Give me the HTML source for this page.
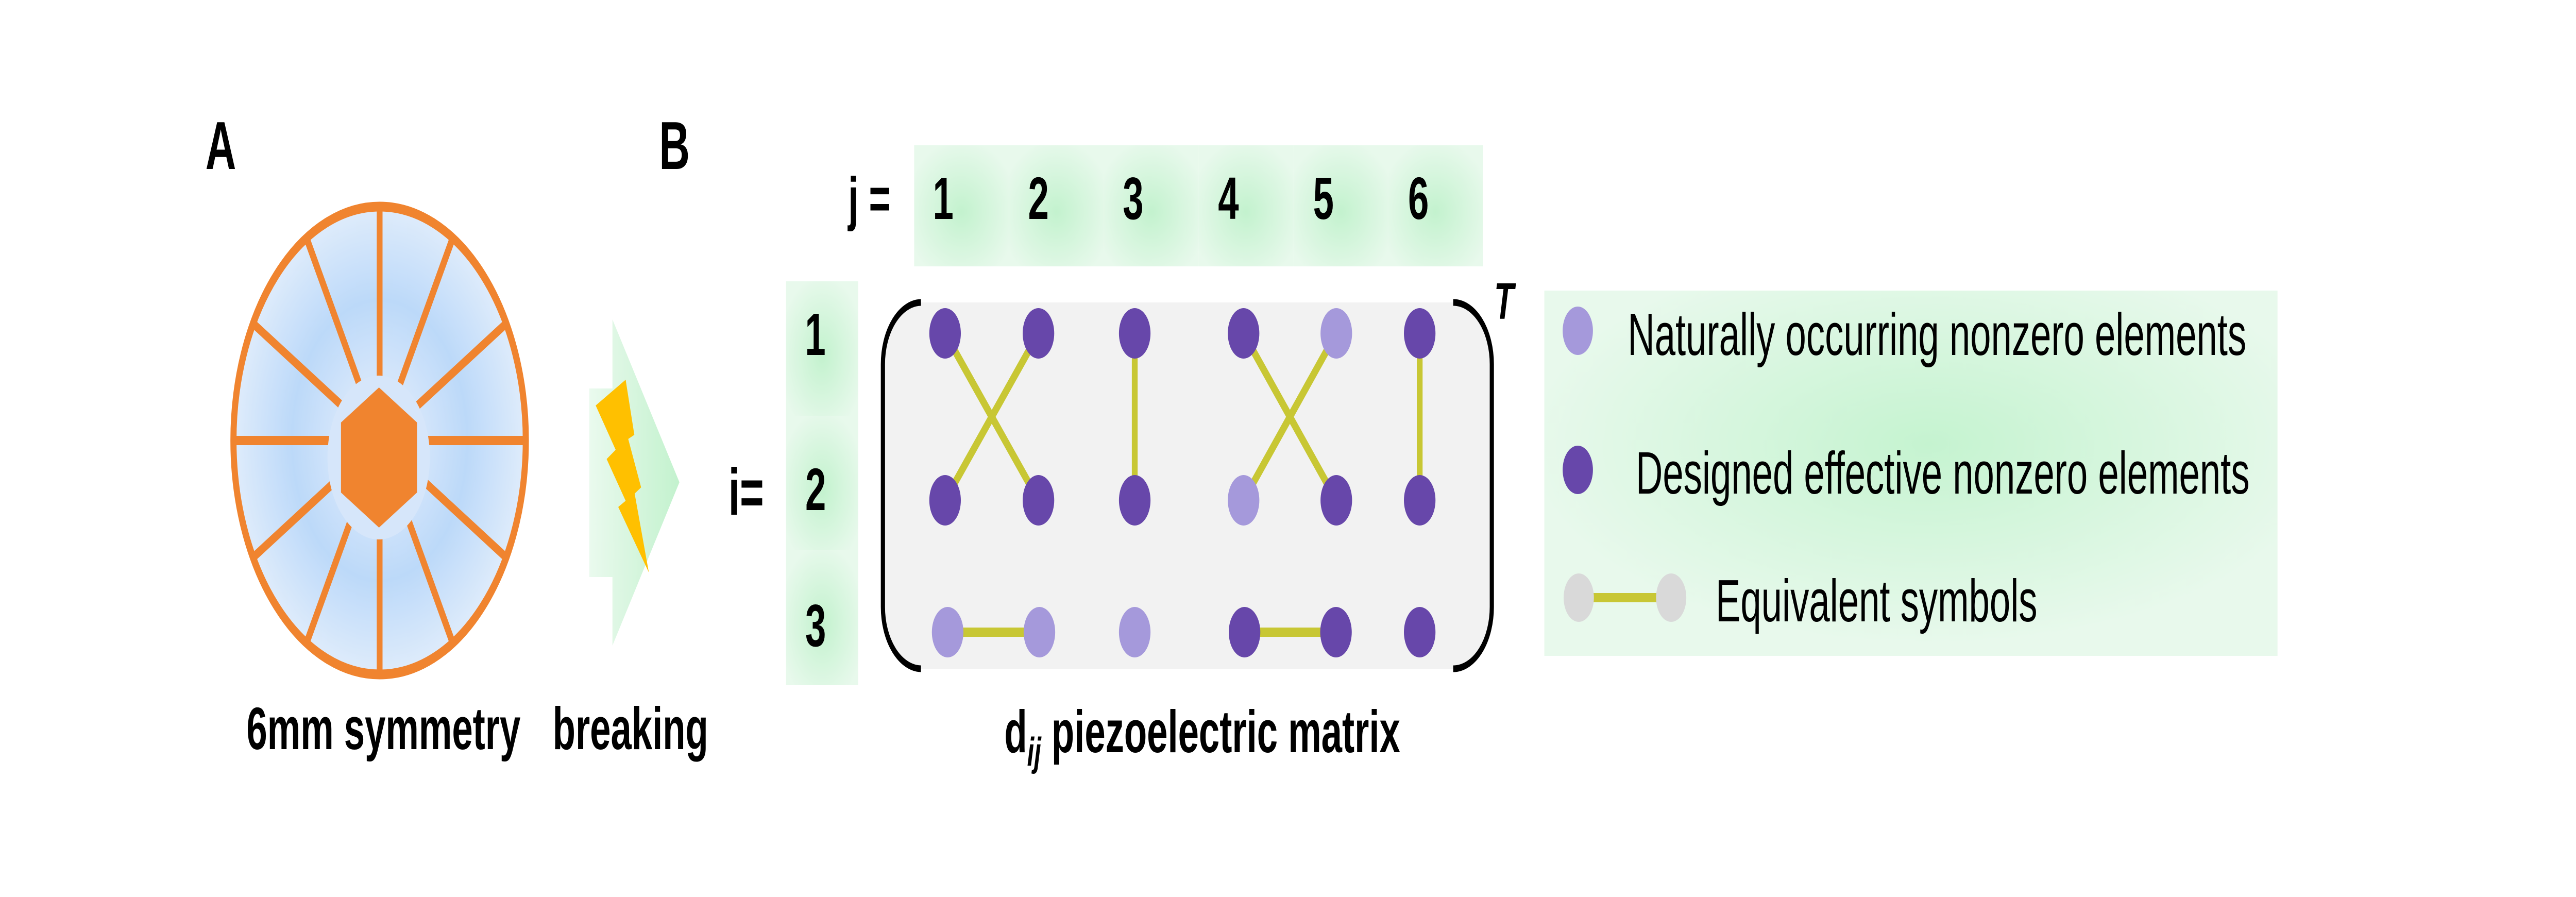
<!DOCTYPE html>
<html>
<head>
<meta charset="utf-8">
<style>
  html, body { margin:0; padding:0; background:#ffffff; width:100%; height:100%; overflow:hidden; }
  svg { display:block; width:100vw; height:100vh; }
  text { font-family: "Liberation Sans", Arial, sans-serif; }
</style>
</head>
<body>
<svg viewBox="0 0 8000 1741" preserveAspectRatio="none" xmlns="http://www.w3.org/2000/svg">
  <defs>
    <radialGradient id="blueG" gradientUnits="userSpaceOnUse" cx="1179" cy="855" r="454">
      <stop offset="0.3" stop-color="#D3E5FA"/>
      <stop offset="0.6" stop-color="#BCD9F9"/>
      <stop offset="1" stop-color="#DFECFB"/>
    </radialGradient>
    <linearGradient id="arrowG" gradientUnits="userSpaceOnUse" x1="1830" y1="0" x2="2110" y2="0">
      <stop offset="0" stop-color="#EAFAEE"/>
      <stop offset="0.3" stop-color="#DEF7E4"/>
      <stop offset="1" stop-color="#C3F2CE"/>
    </linearGradient>
    <radialGradient id="tileG" cx="0.5" cy="0.55" r="0.6">
      <stop offset="0" stop-color="#C3F2CE"/>
      <stop offset="1" stop-color="#E8F9EC"/>
    </radialGradient>
    <radialGradient id="legG" cx="0.526" cy="0.42" r="0.55">
      <stop offset="0" stop-color="#C5F3D0"/>
      <stop offset="1" stop-color="#E8F9EC"/>
    </radialGradient>
  </defs>

  <rect x="0" y="0" width="8000" height="1741" fill="#ffffff"/>

  <!-- Labels A, B -->
  <text x="638" y="328" font-size="132" font-weight="bold" fill="#000">A</text>
  <text x="2047" y="328" font-size="132" font-weight="bold" fill="#000">B</text>

  <!-- 6mm symmetry disc -->
  <circle cx="1179" cy="855" r="454" fill="url(#blueG)" stroke="#F0842F" stroke-width="19"/>
  <g stroke="#F0842F" stroke-width="18">
    <line x1="1179" y1="855" x2="1179" y2="401"/>
    <line x1="1179" y1="855" x2="1406" y2="462"/>
    <line x1="1179" y1="855" x2="1572" y2="628"/>
    <line x1="1179" y1="855" x2="1633" y2="855"/>
    <line x1="1179" y1="855" x2="1572" y2="1082"/>
    <line x1="1179" y1="855" x2="1406" y2="1248"/>
    <line x1="1179" y1="855" x2="1179" y2="1309"/>
    <line x1="1179" y1="855" x2="952" y2="1248"/>
    <line x1="1179" y1="855" x2="786" y2="1082"/>
    <line x1="1179" y1="855" x2="725" y2="855"/>
    <line x1="1179" y1="855" x2="786" y2="628"/>
    <line x1="1179" y1="855" x2="952" y2="462"/>
  </g>
  <circle cx="1176" cy="888" r="159" fill="#D6E6FA"/>
  <polygon points="1177,752 1295,820 1295,956 1177,1024 1059,956 1059,820" fill="#F0842F"/>

  <text x="1191" y="1454" font-size="116" font-weight="bold" text-anchor="middle" fill="#000">6mm symmetry</text>

  <!-- breaking arrow -->
  <polygon points="1830,754 1902,754 1902,620 2110,936 1902,1253 1902,1120 1830,1120" fill="url(#arrowG)"/>
  <polygon points="1850,787 1943,737 1970,844 1951,852 1991,946 1971,958 2015,1111 1920,984 1943,972 1884,891 1912,873" fill="#FFC000"/>
  <text x="1958" y="1454" font-size="116" font-weight="bold" text-anchor="middle" fill="#000">breaking</text>

  <!-- i= -->
  <text x="2262" y="999" font-size="128" font-weight="bold" fill="#000">i=</text>

  <!-- j = -->
  <text x="2634" y="425" font-size="116" font-weight="bold" fill="#000">j =</text>

  <!-- j header tiles -->
  <rect x="2839" y="282" width="294.5" height="235" fill="url(#tileG)"/>
  <rect x="3133.3" y="282" width="294.5" height="235" fill="url(#tileG)"/>
  <rect x="3427.6" y="282" width="294.5" height="235" fill="url(#tileG)"/>
  <rect x="3721.9" y="282" width="294.5" height="235" fill="url(#tileG)"/>
  <rect x="4016.2" y="282" width="294.5" height="235" fill="url(#tileG)"/>
  <rect x="4310.5" y="282" width="294.5" height="235" fill="url(#tileG)"/>
  <g font-size="116" font-weight="bold" text-anchor="middle" fill="#000">
    <text x="2929" y="425">1</text>
    <text x="3225" y="425">2</text>
    <text x="3519" y="425">3</text>
    <text x="3815" y="425">4</text>
    <text x="4110" y="425">5</text>
    <text x="4405" y="425">6</text>
  </g>

  <!-- i column tiles -->
  <rect x="2441" y="546" width="224" height="261.5" fill="url(#tileG)"/>
  <rect x="2441" y="807" width="224" height="261.5" fill="url(#tileG)"/>
  <rect x="2441" y="1068" width="224" height="262" fill="url(#tileG)"/>
  <g font-size="116" font-weight="bold" text-anchor="middle" fill="#000">
    <text x="2532" y="689">1</text>
    <text x="2533" y="990">2</text>
    <text x="2533" y="1254">3</text>
  </g>

  <!-- matrix background -->
  <path d="M2860,587 L4513,587 A120,120 0 0 1 4633,707 L4633,1178 A120,120 0 0 1 4513,1298 L2860,1298 A120,120 0 0 1 2742,1178 L2742,707 A120,120 0 0 1 2860,587 Z" fill="#F2F2F2"/>
  <!-- brackets -->
  <path d="M2860,587 A120,120 0 0 0 2742,707 L2742,1178 A120,120 0 0 0 2860,1298" fill="none" stroke="#000" stroke-width="13"/>
  <path d="M4513,587 A120,120 0 0 1 4633,707 L4633,1178 A120,120 0 0 1 4513,1298" fill="none" stroke="#000" stroke-width="13"/>
  <text x="4640" y="619" font-size="100" font-weight="bold" font-style="italic" fill="#000">T</text>

  <!-- connectors -->
  <g stroke="#C8C734" stroke-width="18">
    <line x1="2935" y1="647" x2="3225" y2="971"/>
    <line x1="3225" y1="647" x2="2935" y2="971"/>
    <line x1="3524" y1="647" x2="3524" y2="971"/>
    <line x1="3862" y1="647" x2="4150" y2="971"/>
    <line x1="4150" y1="647" x2="3862" y2="971"/>
    <line x1="4409" y1="647" x2="4409" y2="971"/>
    <line x1="2943" y1="1227" x2="3228" y2="1227"/>
    <line x1="3865" y1="1227" x2="4149" y2="1227"/>
  </g>

  <!-- dots -->
  <g>
    <circle cx="2935" cy="647" r="49" fill="#6747AA"/>
    <circle cx="3225" cy="647" r="49" fill="#6747AA"/>
    <circle cx="3524" cy="647" r="49" fill="#6747AA"/>
    <circle cx="3862" cy="647" r="49" fill="#6747AA"/>
    <circle cx="4150" cy="647" r="49" fill="#A599DB"/>
    <circle cx="4409" cy="647" r="49" fill="#6747AA"/>

    <circle cx="2935" cy="971" r="49" fill="#6747AA"/>
    <circle cx="3225" cy="971" r="49" fill="#6747AA"/>
    <circle cx="3524" cy="971" r="49" fill="#6747AA"/>
    <circle cx="3862" cy="971" r="49" fill="#A599DB"/>
    <circle cx="4150" cy="971" r="49" fill="#6747AA"/>
    <circle cx="4409" cy="971" r="49" fill="#6747AA"/>

    <circle cx="2943" cy="1227" r="49" fill="#A599DB"/>
    <circle cx="3228" cy="1227" r="49" fill="#A599DB"/>
    <circle cx="3524" cy="1227" r="49" fill="#A599DB"/>
    <circle cx="3865" cy="1227" r="49" fill="#6747AA"/>
    <circle cx="4149" cy="1227" r="49" fill="#6747AA"/>
    <circle cx="4409" cy="1227" r="49" fill="#6747AA"/>
  </g>

  <!-- matrix caption -->
  <text x="3119" y="1460" font-size="116" font-weight="bold" fill="#000">d<tspan font-size="78" font-style="italic" dy="26">ij</tspan><tspan font-size="116" font-style="normal" dy="-26"> piezoelectric matrix</tspan></text>

  <!-- legend -->
  <rect x="4796" y="564" width="2277" height="709" fill="url(#legG)"/>
  <circle cx="4900" cy="642" r="47" fill="#A599DB"/>
  <text x="5055" y="689" font-size="116" fill="#000">Naturally occurring nonzero elements</text>
  <circle cx="4900" cy="912" r="47" fill="#6747AA"/>
  <text x="5080" y="958" font-size="116" fill="#000">Designed effective nonzero elements</text>
  <line x1="4903" y1="1160" x2="5190" y2="1160" stroke="#C8C734" stroke-width="18"/>
  <circle cx="4903" cy="1160" r="47" fill="#D9D9D9"/>
  <circle cx="5190" cy="1160" r="47" fill="#D9D9D9"/>
  <text x="5328" y="1206" font-size="116" fill="#000">Equivalent symbols</text>
</svg>
</body>
</html>
